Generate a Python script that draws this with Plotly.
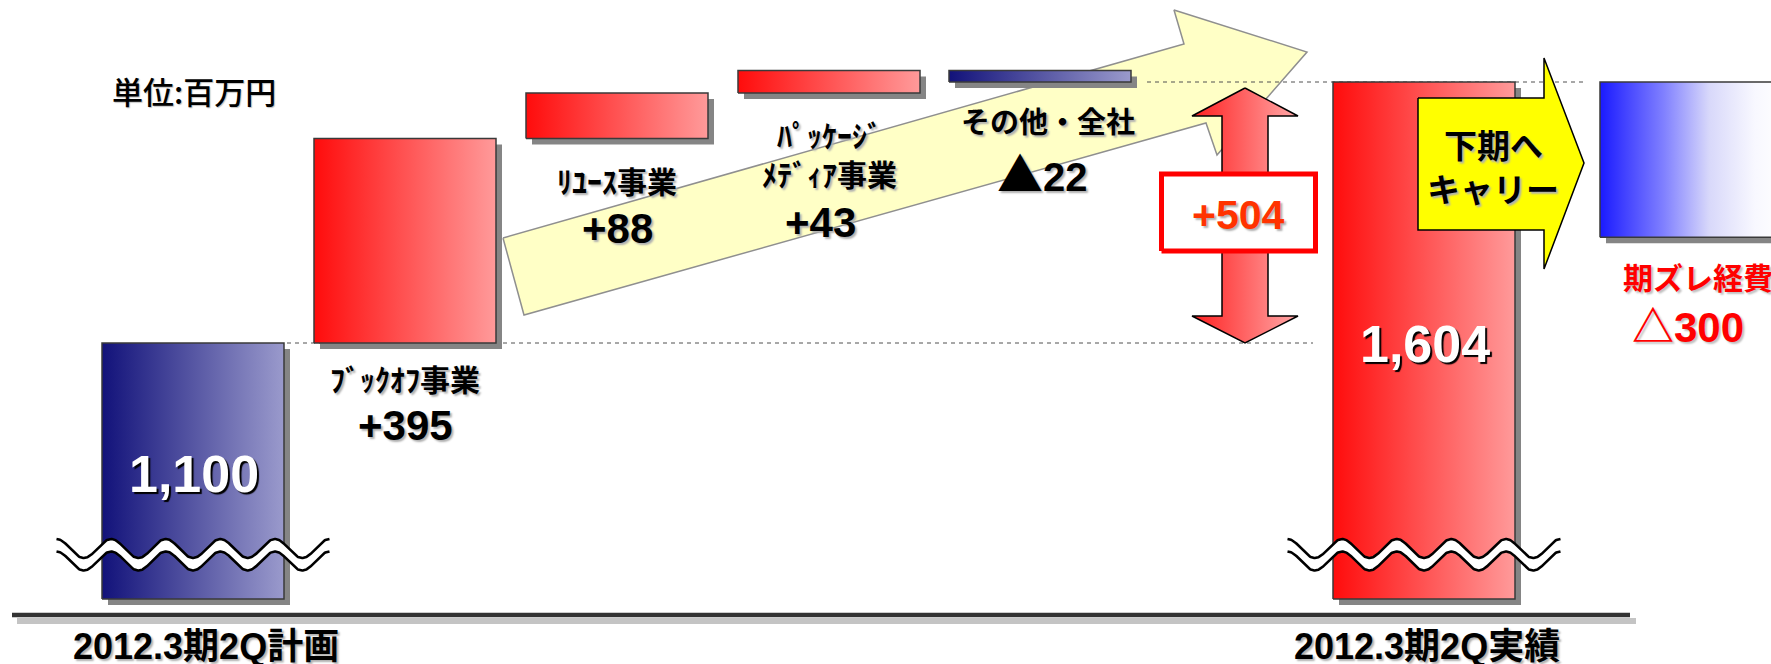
import numpy as np
import plotly.graph_objects as go

# ---------------- data ----------------
plan_label = "2012.3期2Q計画"
actual_label = "2012.3期2Q実績"
plan_value = 1100
plan_value_label = "1,100"
segment_names = ["ﾌﾞｯｸｵﾌ事業", "ﾘﾕｰｽ事業", "ﾊﾟｯｹｰｼﾞ<br>ﾒﾃﾞｨｱ事業", "その他・全社"]
segment_deltas = [395, 88, 43, -22]
segment_value_labels = ["+395", "+88", "+43",
                        "<span style='font-family:Noto Sans CJK JP;font-size:46px'>▲</span>22"]
actual_value = 1604
actual_value_label = "1,604"
diff_label = "+504"
carry_name = "期ズレ経費"
carry_value = -300
carry_value_label = "△300"
carry_text = ["下期へ", "キャリー"]
unit_label = "単位:百万円"

# ---------------- layout constants (pixels) ----------------
W, H = 1771, 664
X_CENTERS = [193, 405, 617, 829, 1040, 1424, 1691]
BAR_W = 182
PX_PLAN_TOP = 343
PX_ACTUAL_TOP = 82
PX_BAR_FLOOR = 599
S = (PX_PLAN_TOP - PX_ACTUAL_TOP) / (actual_value - plan_value)  # px per unit
V_TOP = actual_value + PX_ACTUAL_TOP / S
V_BOT = V_TOP - H / S


def yv(py):
    return V_TOP - py / S


def dv(dpx):
    return dpx / S


JP = "Noto Sans CJK JP"
NUM = "Liberation Sans, Noto Sans CJK JP"
RED = [[0, "#ff0c0c"], [1, "#ff9a9a"]]
NAVY = [[0, "#12127a"], [1, "#9a9acc"]]
BLUEW = [[0, "#1a1aff"], [0.35, "#8080ff"], [0.6, "#d8d8fa"], [0.85, "#f8f8ff"], [1, "#ffffff"]]

traces = []


def poly(xs, ys, **kw):
    d = dict(mode="lines", fill="toself", hoverinfo="skip", showlegend=False)
    d.update(kw)
    return go.Scatter(x=list(xs) + [xs[0]], y=list(ys) + [ys[0]], **d)


def line(xs, ys, **kw):
    return go.Scatter(x=xs, y=ys, mode="lines", hoverinfo="skip", showlegend=False, **kw)


# baseline with shadow
traces.append(line([17, 1636], [yv(621), yv(621)], line=dict(color="#c4c4c4", width=6)))
traces.append(line([12, 1630], [yv(615), yv(615)], line=dict(color="#333333", width=4.5)))

# big yellow trend arrow (decoration)
arrow_px = [(503, 238), (1184, 44), (1174, 10), (1307, 52), (1217, 155), (1206, 123), (524, 315)]
traces.append(poly([p[0] for p in arrow_px], [yv(p[1]) for p in arrow_px],
                   fillcolor="#ffffc6", line=dict(color="#8f8f8f", width=1.5)))

# dashed reference lines
traces.append(line([287, 1313], [plan_value, plan_value],
                   line=dict(color="#505050", width=1, dash="4px,4px")))
traces.append(line([1147, 1585], [actual_value, actual_value],
                   line=dict(color="#505050", width=1, dash="4px,4px")))

# bars
floor_val = yv(PX_BAR_FLOOR)
bars = [(X_CENTERS[0], floor_val, plan_value, NAVY)]
cum = plan_value
for i, d in enumerate(segment_deltas):
    bars.append((X_CENTERS[i + 1], cum, cum + d, RED if d > 0 else NAVY))
    cum += d
bars.append((X_CENTERS[5], floor_val, actual_value, RED))
bars.append((X_CENTERS[6], actual_value + carry_value, actual_value, BLUEW))

for cx, y0, y1, cs in bars:
    lo, hi = min(y0, y1), max(y0, y1)
    x0, x1 = cx - BAR_W / 2, cx + BAR_W / 2
    traces.append(poly([x0 + 6, x1 + 6, x1 + 6, x0 + 6], [lo - dv(6), lo - dv(6), hi - dv(6), hi - dv(6)],
                       fillcolor="#858585", line=dict(width=0)))
    traces.append(poly([x0, x1, x1, x0], [lo, lo, hi, hi],
                       fillgradient=dict(type="horizontal", colorscale=cs),
                       line=dict(color="#3a3a3a", width=1.5)))

# double-headed difference arrow
ax = 1245
tip_t, base_t = actual_value - dv(6), actual_value - dv(34)
tip_b, base_b = plan_value, plan_value + dv(27)
dxs = [ax, ax + 53, ax + 23, ax + 23, ax + 53, ax, ax - 53, ax - 23, ax - 23, ax - 53]
dys = [tip_t, base_t, base_t, base_b, base_b, tip_b, base_b, base_b, base_t, base_t]
traces.append(poly(dxs, dys, fillgradient=dict(type="horizontal", colorscale=[[0, "#ff2020"], [1, "#ffa8a8"]]),
                   line=dict(color="#000000", width=1.5)))
mid = (plan_value + actual_value) / 2
traces.append(poly([1161.5, 1315.5, 1315.5, 1161.5], [mid - dv(38.5), mid - dv(38.5), mid + dv(38.5), mid + dv(38.5)],
                   fillcolor="#ffffff", line=dict(color="#ff0000", width=5)))

# carry arrow
carry_px = [(1418, 98), (1544, 98), (1544, 58), (1584, 163), (1544, 269), (1544, 230), (1418, 230)]
traces.append(poly([p[0] for p in carry_px], [yv(p[1]) for p in carry_px],
                   fillcolor="#ffff00", line=dict(color="#000000", width=1.5)))

# axis break waves
for cx in (X_CENTERS[0], X_CENTERS[5]):
    xs = np.linspace(cx - 136.5, cx + 136.5, 400)
    per = 273 / 5
    up = 548.5 - 9.5 * np.cos(2 * np.pi * (xs - xs[0]) / per)
    lo = up + 12.5
    traces.append(go.Scatter(x=np.concatenate([xs, xs[::-1]]), y=yv(np.concatenate([up, lo[::-1]])),
                             mode="lines", fill="toself", fillcolor="#ffffff", line=dict(width=0),
                             hoverinfo="skip", showlegend=False))
    traces.append(line(xs, yv(up), line=dict(color="#000000", width=2.6)))
    traces.append(line(xs, yv(lo), line=dict(color="#000000", width=2.6)))

fig = go.Figure(traces)

ann = []


def text(x, py, t, size, color="#000000", family=JP, weight=700, shadow="2px 2px 2px #b0b0b0", xanchor="center"):
    ann.append(dict(x=x, y=yv(py), xref="x", yref="y", text=t, showarrow=False, xanchor=xanchor, yanchor="middle",
                    font=dict(family=family, size=size, color=color, weight=weight, shadow=shadow)))


text(194, 90, unit_label, 31, weight=500, shadow="1px 1px 1px #c0c0c0")
text(405, 378, segment_names[0], 30)
text(405, 425, segment_value_labels[0], 42, family=NUM)
text(617, 180, segment_names[1], 30)
text(617, 228, segment_value_labels[1], 42, family=NUM)
text(829, 153.5, segment_names[2], 30)
text(820, 222, segment_value_labels[2], 42, family=NUM)
text(1048, 120, segment_names[3], 29)
text(1042, 171, segment_value_labels[3], 40, family=NUM)
text(1238, 215, diff_label, 41, color="#ff3300", family=NUM)
text(194, 474, plan_value_label, 52, color="#ffffff", family=NUM, shadow="2px 2px 1px #000000")
text(1425, 344, actual_value_label, 52, color="#ffffff", family=NUM, shadow="2px 2px 1px #000000")
text(1493, 144, carry_text[0], 33)
text(1493, 188, carry_text[1], 33)
text(1621, 276, carry_name, 30, color="#ff0000", xanchor="left", shadow="2px 2px 2px #c0c0c0")
text(1688, 327, carry_value_label, 42, color="#ff0000", family=NUM, shadow="2px 2px 2px #c0c0c0")
text(206, 646, plan_label, 36, family=NUM)
text(1427, 646, actual_label, 36, family=NUM)

fig.update_layout(
    width=W, height=H, autosize=False,
    margin=dict(l=0, r=0, t=0, b=0, pad=0),
    paper_bgcolor="#ffffff", plot_bgcolor="#ffffff",
    xaxis=dict(range=[0, W], visible=False, fixedrange=True),
    yaxis=dict(range=[V_BOT, V_TOP], visible=False, fixedrange=True),
    annotations=ann,
    showlegend=False,
)
fig.write_html("out.html", config=dict(displayModeBar=False))
